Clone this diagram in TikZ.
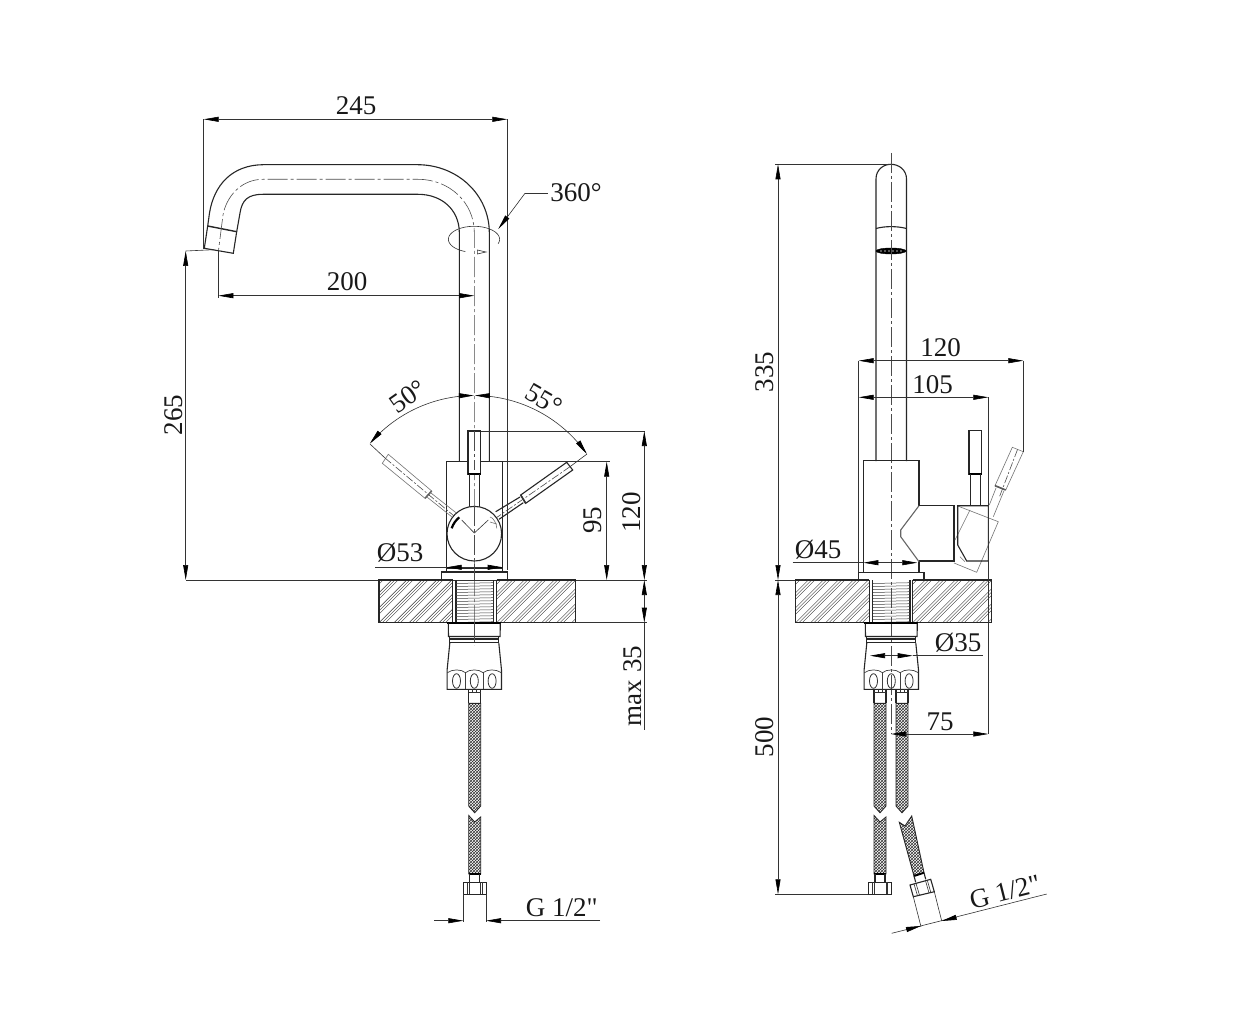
\documentclass[tikz,border=0pt]{standalone}
\usepackage{fontspec}
\setmainfont{Liberation Serif}
\newfontfamily\rawserif{Liberation Serif}
\usetikzlibrary{arrows.meta,patterns}
\tikzset{
  obj/.style={line width=1.1pt,black!85,line join=miter},
  hvy/.style={line width=1.9pt,black},
  thinl/.style={line width=0.6pt,black!80},
  ghost/.style={line width=0.6pt,black!55},
  axis/.style={line width=0.6pt,black!70,dash pattern=on 20pt off 3pt on 3pt off 3pt},
  dim/.style={thinl,{Triangle[length=15pt,width=5pt,black]}-{Triangle[length=15pt,width=5pt,black]}},
  tipend/.style={thinl,-{Triangle[length=15pt,width=5pt,black]}},
  lab/.style={font=\rawserif\fontsize{27}{27}\selectfont,inner sep=0pt,text=black!90},
  braid/.style={line width=0.9pt,black!85,pattern=crosshatch,pattern color=black!80},
}
% slab hatch: #1 x-left, #2 x-right
\newcommand{\hatchzone}[2]{%
  \begin{scope}
    \clip (#1,580) rectangle (#2,622.7);
    \foreach \k in {-3,...,18}{
      \foreach \o in {0,3.2,6.4}{
        \draw[line width=0.42pt,black!80] ({#1+\k*15+\o},622.7) -- ++(45,-45);
      }
    }
  \end{scope}}
% threaded insert centred on #1
\newcommand{\threadzone}[1]{%
  \begin{scope}[shift={(#1,0)}]
    \foreach \yy in {583,586,...,622}{
      \draw[line width=0.5pt,black!75] (-18.5,\yy+0.5) -- (18.5,\yy-0.3);
    }
  \end{scope}}
% nut under the counter centred on #1
\newcommand{\nutzone}[1]{%
  \begin{scope}[shift={(#1,0)}]
    \draw[hvy] (-27,623.3) -- (27,623.3);
    \draw[obj] (-26,623.3) -- (-25.8,636.5) -- (25.8,636.5) -- (26,623.3);
    \draw[obj] (-24.5,636.5) -- (-24.5,643) (24.5,636.5) -- (24.5,643);
    \draw[obj] (-24.5,639) -- (24.5,639) (-24.5,642.8) -- (24.5,642.8);
    \draw[obj] (-24.5,643) -- (-27.2,670) -- (-27.2,689.3) -- (27.2,689.3) -- (27.2,670) -- (24.5,643);
    \draw[line width=0.7pt,black!75] (-27,672.7) .. controls (-22,669) and (-13,669) .. (-8.8,672.7)
      .. controls (-5,669) and (5,669) .. (8.8,672.7)
      .. controls (13,669) and (22,669) .. (27,672.7);
    \draw[line width=0.7pt,black!75] (-8.8,672.7) -- (-8.8,689.3) (8.8,672.7) -- (8.8,689.3);
    \foreach \ox in {-17.8,0,17.8}{
      \draw[line width=0.8pt,black!80] (\ox,681) ellipse[x radius=4,y radius=7.3];
    }
  \end{scope}}
% straight hose centred on #1: connector plus both braid lengths
\newcommand{\hosetop}[1]{%
  \begin{scope}[shift={(#1,0)}]
    \draw[obj] (-6,689.3) -- (-6,703.3) (6,689.3) -- (6,703.3);
    \draw[thinl] (-6,692.7) -- (6,692.7) (-2,689.3) -- (-2,692.7) (2,689.3) -- (2,692.7);
    \draw[braid] (-6,703.3) -- (6,703.3) -- (6,806) -- (0,812.7) -- (-6,806) -- cycle;
  \end{scope}}
\newcommand{\hosebottom}[1]{%
  \begin{scope}[shift={(#1,0)}]
    \draw[braid] (-6,815.5) -- (0,822) -- (6,817) -- (6,874) -- (-6,874) -- cycle;
    \draw[hvy] (-6,874) -- (6,874);
    \draw[obj] (-5,874) -- (-5,882.3) (5,874) -- (5,882.3);
    \draw[obj] (-11.5,882.3) rectangle (11.5,894.3);
    \draw[thinl] (-7.5,882.3) -- (-7.5,894.3) (-5.8,882.3) -- (-5.8,894.3)
      (5.8,882.3) -- (5.8,894.3) (7.5,882.3) -- (7.5,894.3);
  \end{scope}}
\begin{document}
\begin{tikzpicture}[x=1pt,y=-1pt]
\useasboundingbox (0,0) rectangle (1252,1024);
\fill[white] (0,0) rectangle (1252,1024);

%%%%%%%%%%%%%%%%%%%%%%%%  LEFT VIEW  %%%%%%%%%%%%%%%%%%%%%%%%
% spout
\draw[obj] (489.3,461.7) -- (489.3,232) .. controls (489,195) and (458,165) .. (418,164.7)
  -- (263,164.7) .. controls (232,165) and (214,185) .. (209.5,213) -- (207.7,226);
\draw[obj] (459.3,461.7) -- (459.3,232) .. controls (459,210) and (442,194.3) .. (418,194.3)
  -- (263,194.3) .. controls (248,194.3) and (242,200) .. (240,213) -- (236.7,231.7);
\draw[obj,line width=1.4pt] (207.7,226) -- (236.7,231.7);
\draw[obj] (207.7,226) -- (204.3,248.3) -- (233.3,253.3) -- (236.7,231.7);
% centre lines
\draw[axis] (474.3,625) -- (474.3,232) .. controls (474,203) and (450,179.3) .. (418,179.3)
  -- (263,179.3) .. controls (240,179.3) and (226,198) .. (223,215) -- (218.3,252);
% swivel mark
\draw[thinl] plot[domain=-20:250,samples=50] ({474+25.6*cos(\x)},{239.3-13*sin(\x)});
\draw[thinl,fill=white] (477.3,250) -- (486,252) -- (477.3,254) -- cycle;
% body
\draw[obj] (446.7,568) -- (446.7,461.7) -- (502.7,461.7) -- (502.7,568);
\draw[obj] (441.7,580) -- (441.7,572) -- (507.3,572) -- (507.3,580);
\draw[obj] (446.7,572) -- (446.7,568) -- (502.7,568) -- (502.7,572);
% levers
\draw[ghost] (388.3,454.3) -- (382.3,463.3) -- (425,498.3) -- (431.7,491) -- cycle;
\draw[ghost] (431,493) -- (456,512.7) (427.3,497.3) -- (451.7,516.7);
\draw[line width=1.6pt,black!60] (431.7,491) -- (425,498.3);
\draw[axis,dash pattern=on 8pt off 2pt on 2pt off 2pt] (385,458) -- (474.3,533);
\draw[obj] (566.7,462.3) -- (572.7,470) -- (525.7,503.3) -- (520.7,495) -- cycle;
\draw[obj] (520,497) -- (495.7,511.7) (523.3,502.7) -- (499,519.3);
\draw[line width=1.6pt,black!80] (520.7,495) -- (525.7,503.3);
\draw[axis,dash pattern=on 8pt off 2pt on 2pt off 2pt] (570,466.7) -- (474.3,533);
\draw[obj,fill=white] (468,431) rectangle (480.7,474);
\draw[hvy] (468,474) -- (480.7,474);
\draw[obj] (469.3,474) -- (469.3,506.5) (479.3,474) -- (479.3,506.5);
\draw[axis] (474.3,431) -- (474.3,470);
% ball
\draw[obj,fill=white] (474.3,533.7) circle[radius=27.3pt];
\draw[thinl] (461.7,520) -- (474.3,533) -- (488.3,520);
\draw[axis] (474.3,506) -- (474.3,580);
\draw[line width=2.2pt,black] (451.7,528.3) .. controls (453,524) and (456,520) .. (459.3,517.3);
\draw[ghost] (490,517) .. controls (493,517) and (497,524) .. (496.7,528.3) (490,522) -- (496.7,524);
% swing arc
\draw[thinl,{Triangle[length=15pt,width=5pt,black]}-{Triangle[length=15pt,width=5pt,black]}]
  plot[domain=-49.5:-0.2,samples=40] ({474.3+137.5*sin(\x)},{533-137.5*cos(\x)});
\draw[thinl,{Triangle[length=15pt,width=5pt,black]}-{Triangle[length=15pt,width=5pt,black]}]
  plot[domain=55:0.2,samples=40] ({474.3+137.5*sin(\x)},{533-137.5*cos(\x)});
\draw[thinl] (385,458) -- (370,444) (570,466.7) -- (587,454);
% counter
\draw[thinl] (186,580) -- (647,580);
\hatchzone{379}{452.7}
\hatchzone{496.7}{575.7}
\draw[obj] (452.7,580) -- (379,580) -- (379,622.7) -- (452.7,622.7) -- (452.7,580);
\draw[obj] (496.7,580) -- (575.7,580) -- (575.7,622.7) -- (496.7,622.7) -- (496.7,580);
\draw[obj] (456,580) -- (456,622.7) (493.3,580) -- (493.3,622.7);
\threadzone{474.7}
\nutzone{474.3}
\hosetop{474.7}
\hosebottom{474.7}
\draw[axis] (474.3,622) -- (474.3,645);
% dimensions
\draw[thinl] (203.7,119.3) -- (203.7,249) (507.3,119.3) -- (507.3,570);
\draw[dim] (203.7,119.3) -- (507.3,119.3);
\node[lab] (d245) at (356,106) {245};
\draw[thinl] (218.3,250) -- (218.3,298);
\draw[dim] (218.3,295.7) -- (474.3,295.7);
\node[lab] (d200) at (347,282) {200};
\draw[thinl] (185.7,251) -- (214,249.7);
\draw[dim] (185.7,251) -- (185.7,580);
\node[lab,rotate=90] (d265) at (174,415) {265};
\draw[tipend] (525,193.3) -- (498.3,229);
\draw[thinl] (525,193.3) -- (548,193.3);
\node[lab] (d360) at (576,193) {360°};
\node[lab,rotate=35] (d50) at (408,396.5) {50°};
\node[lab,rotate=-30] (d55) at (544,399.5) {55°};
\draw[thinl] (480.7,431) -- (645,431) (502.7,461.7) -- (610,461.7);
\draw[dim] (606.7,461.7) -- (606.7,580);
\node[lab,rotate=90] (d95) at (593,520) {95};
\draw[dim] (644.3,431) -- (644.3,580);
\node[lab,rotate=90] (d120a) at (631.5,512.7) {120};
\draw[thinl] (375,567.3) -- (446.7,567.3);
\draw[dim] (446.7,567.3) -- (502.7,567.3);
\node[lab] (d53) at (400,553) {Ø53};
\draw[thinl] (575.7,622.7) -- (647,622.7);
\draw[dim] (644.3,580) -- (644.3,622.7);
\draw[thinl] (644.3,622.7) -- (644.3,730);
\node[lab,rotate=90] (dmax) at (633,686) {max 35};
\draw[thinl] (463.3,894.3) -- (463.3,921.7) (486,894.3) -- (486,921.7);
\draw[tipend] (434,920.7) -- (463.3,920.7);
\draw[tipend] (600,920.7) -- (486,920.7);
\node[lab] (dga) at (561.7,908) {G 1/2"};

%%%%%%%%%%%%%%%%%%%%%%%%  RIGHT VIEW  %%%%%%%%%%%%%%%%%%%%%%%%
% tube
\draw[obj] (876,461) -- (876,179) .. controls (876,170) and (883,164.3) .. (891,164.3)
  .. controls (899,164.3) and (906.5,170) .. (906.5,179) -- (906.5,461);
\draw[obj] (876,228.5) .. controls (885,226) and (897,226) .. (906.5,228.5);
\draw[fill=black] (891,251) ellipse[x radius=15,y radius=3];
\foreach \dx in {-10,-6,-2,2,6,10}{ \fill[white!70!black] (891+\dx,251) circle[radius=0.8pt]; }
\draw[axis] (891,153) -- (891,734);
% body
\draw[obj] (863.3,572) -- (863.3,460.7) -- (919,460.7) -- (919,505.7);
\draw[obj] (919,561) -- (919,572);
\draw[obj] (858.7,580) -- (858.7,572.3) -- (924,572.3) -- (924,580);
\draw[obj] (919,505.7) -- (954,505.7) -- (954,561) -- (919,561);
\draw[obj,black!60] (919,505.7) -- (900.7,530) -- (900.7,536.7) -- (919,561.7);
% tilted lever (ghost)
\draw[ghost] (955,540) -- (970,510) (957,505.7) -- (998.3,521.7) -- (976.7,572.3) -- (954,563);
\draw[ghost] (960,556.7) -- (965,561.7);
\draw[ghost] (1012.3,447.3) -- (1023.3,451.7) -- (1005.7,490) -- (995,485.7) -- cycle;
\draw[ghost] (996,488) -- (989.3,505) (1004,490.7) -- (993.3,516.7);
\draw[line width=1.6pt,black!65] (995,485.7) -- (1005.7,490);
\draw[axis,dash pattern=on 8pt off 2pt on 2pt off 2pt] (1017.5,449.5) -- (999,498);
% lever
\draw[obj] (957.7,505.7) -- (957.7,545) -- (966.7,561) -- (988.3,561) -- (988.3,505.7) -- cycle;
\draw[obj] (969,430.7) rectangle (981.7,474);
\draw[hvy] (969,474) -- (981.7,474);
\draw[obj] (970.7,474) -- (970.7,505.7) (980.3,474) -- (980.3,505.7);
% counter
\draw[thinl] (775,580) -- (795.7,580);
\hatchzone{795.7}{869.3}
\hatchzone{912.7}{991.7}
\draw[obj] (869.3,580) -- (795.7,580) -- (795.7,622.7) -- (869.3,622.7) -- (869.3,580);
\draw[obj] (912.7,580) -- (991.7,580) -- (991.7,622.7) -- (912.7,622.7) -- (912.7,580);
\draw[obj] (872.7,580) -- (872.7,622.7) (910,580) -- (910,622.7);
\threadzone{891.3}
\nutzone{891.3}
\hosetop{880}
\hosetop{902}
\hosebottom{880}
% tilted hose
\draw[braid] (899.3,822.3) -- (905,826) -- (911.7,816) -- (924,872.7) -- (914,876) -- cycle;
\draw[hvy] (914,876) -- (924,872.7);
\draw[obj] (915.7,882.3) -- (914,876) (925.7,879.3) -- (924,872.7);
\draw[obj] (910,885) -- (930.7,879.3) -- (934.3,891.7) -- (913.3,896.7) -- cycle;
\draw[thinl] (914,884) -- (917.5,895.7) (916,883.4) -- (919.5,895.2) (925.5,880.7) -- (929,892.9) (927.3,880.2) -- (930.8,892.4);
% dimensions
\draw[thinl] (775,164.3) -- (891,164.3) (775,894.3) -- (868.3,894.3);
\draw[dim] (778,164.3) -- (778,580);
\node[lab,rotate=90] (d335) at (765,372) {335};
\draw[dim] (778,580) -- (778,894.3);
\node[lab,rotate=90] (d500) at (765,737) {500};
\draw[thinl] (858.7,360.7) -- (858.7,572) (1023.3,360.7) -- (1023.3,451.7) (988.3,397.3) -- (988.3,734);
\draw[dim] (858.7,360.7) -- (1023.3,360.7);
\node[lab] (d120b) at (940.7,348) {120};
\draw[dim] (858.7,397.3) -- (988.3,397.3);
\node[lab] (d105) at (932.7,384.3) {105};
\draw[thinl] (792.7,562.7) -- (863.3,562.7);
\draw[dim] (863.3,562.7) -- (917.3,562.7);
\node[lab] (d45) at (818,550) {Ø45};
\draw[dim] (870,655.7) -- (912.7,655.7);
\draw[thinl] (912.7,655.7) -- (983,655.7);
\node[lab] (d35) at (958,642.3) {Ø35};
\draw[dim] (891,734) -- (988.3,734);
\node[lab] (d75) at (940,721.7) {75};
\draw[thinl] (913.3,896.7) -- (921,926.7) (934.3,891.7) -- (941.7,921);
\draw[thinl] (891.7,933.3) -- (1046.7,894);
\draw[tipend] (906.7,929.5) -- (921,926);
\draw[tipend] (956.7,917.2) -- (941.7,921);
\node[lab,rotate=14.2] (dgb) at (1005,891.7) {G 1/2"};
\end{tikzpicture}
\end{document}
